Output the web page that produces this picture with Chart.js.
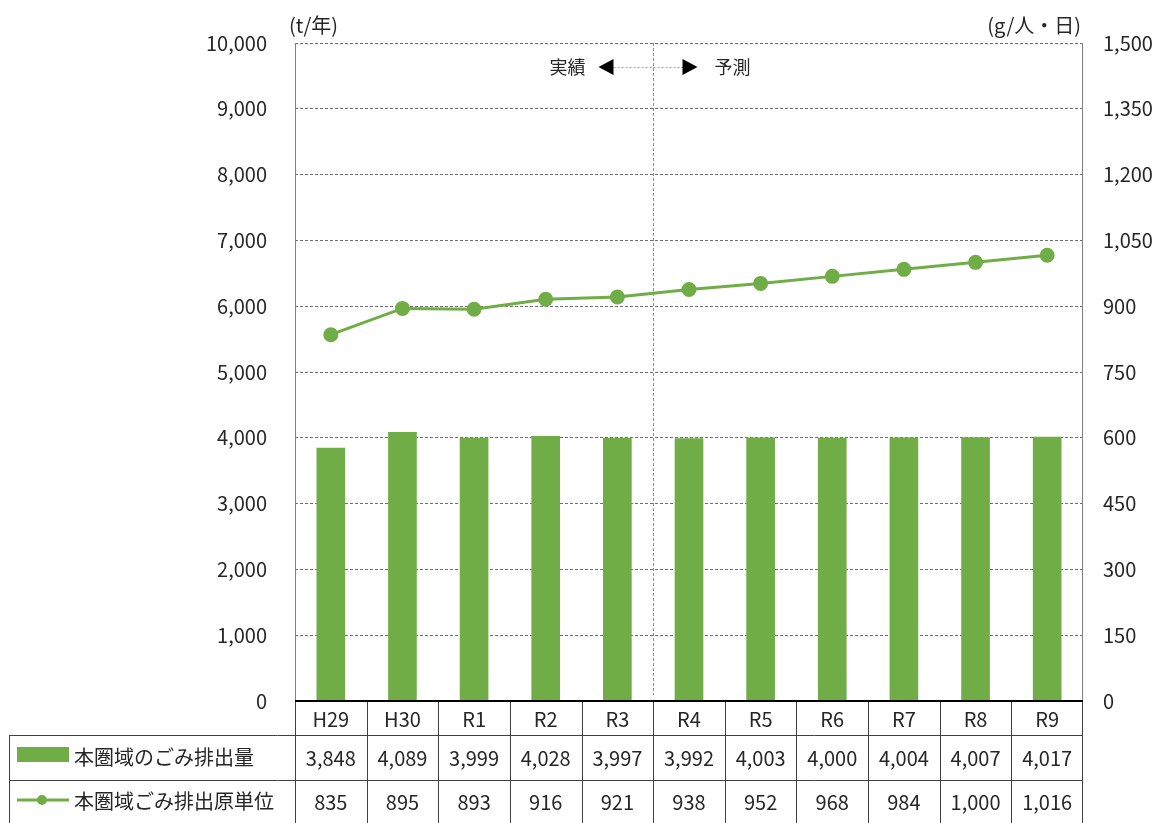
<!DOCTYPE html>
<html>
<head>
<meta charset="utf-8">
<script src="https://cdn.jsdelivr.net/npm/chart.js@4"></script>
<style>
  html, body { margin: 0; padding: 0; background: #fff; }
  #wrap { width: 1165px; height: 823px; }
</style>
</head>
<body>
<div id="wrap"><canvas id="chart"></canvas></div>
<script>
const years = ["H29", "H30", "R1", "R2", "R3", "R4", "R5", "R6", "R7", "R8", "R9"];
const wasteAmount = [3848, 4089, 3999, 4028, 3997, 3992, 4003, 4000, 4004, 4007, 4017];
const perCapita = [835, 895, 893, 916, 921, 938, 952, 968, 984, 1000, 1016];
const barLabel = "本圏域のごみ排出量";
const lineLabel = "本圏域ごみ排出原単位";
const leftTitle = "(t/年)";
const rightTitle = "(g/人・日)";
const pastText = "実績";
const futureText = "予測";
const splitAfter = 4; // index of R3, forecast starts after it

const green = "#70AD47";
const font = '"Noto Sans CJK JP", "Noto Sans", sans-serif';
const textColor = "#262626";

const fmt = v => v.toLocaleString("en-US");

const extras = {
    id: "extras",
    afterDraw(chart) {
        const { ctx, chartArea: a, scales } = chart;
        const x = scales.x;
        const step = a.width / years.length;
        ctx.save();

        // axis titles
        ctx.fillStyle = textColor;
        ctx.font = "20px " + font;
        ctx.textBaseline = "middle";
        ctx.textAlign = "left";
        ctx.fillText(leftTitle, a.left - 6, 25);
        ctx.textAlign = "right";
        ctx.fillText(rightTitle, a.right - 2, 25);

        // frame
        ctx.strokeStyle = "#808080";
        ctx.lineWidth = 1;
        ctx.beginPath();
        ctx.moveTo(a.left + 0.5, a.top);
        ctx.lineTo(a.left + 0.5, a.bottom);
        ctx.moveTo(a.right - 0.5, a.top);
        ctx.lineTo(a.right - 0.5, a.bottom);
        ctx.stroke();

        // split line between actual and forecast
        const sx = Math.round(x.getPixelForValue(splitAfter) + step / 2) + 0.5;
        ctx.strokeStyle = "#8c8c8c";
        ctx.setLineDash([3, 2]);
        ctx.beginPath();
        ctx.moveTo(sx, a.top);
        ctx.lineTo(sx, a.bottom - 6);
        ctx.stroke();

        // arrow line
        const ay = 67;
        ctx.strokeStyle = "#a0a0a0";
        ctx.setLineDash([2, 2]);
        ctx.beginPath();
        ctx.moveTo(sx - 40, ay + 0.5);
        ctx.lineTo(sx + 30, ay + 0.5);
        ctx.stroke();
        ctx.setLineDash([]);
        ctx.fillStyle = "#000";
        ctx.beginPath();
        ctx.moveTo(sx - 55, ay);
        ctx.lineTo(sx - 40, ay - 8);
        ctx.lineTo(sx - 40, ay + 8);
        ctx.closePath();
        ctx.fill();
        ctx.beginPath();
        ctx.moveTo(sx + 44, ay);
        ctx.lineTo(sx + 29, ay - 8);
        ctx.lineTo(sx + 29, ay + 8);
        ctx.closePath();
        ctx.fill();
        ctx.fillStyle = textColor;
        ctx.font = "18px " + font;
        ctx.textAlign = "center";
        ctx.fillText(pastText, sx - 86, ay);
        ctx.fillText(futureText, sx + 79, ay);

        // data table
        const r0 = a.bottom, r1 = 735, r2 = 780, r3 = 823;
        const tl = 9;
        ctx.strokeStyle = "#404040";
        ctx.lineWidth = 1;
        ctx.beginPath();
        ctx.moveTo(tl, r1 + 0.5); ctx.lineTo(a.right, r1 + 0.5);
        ctx.moveTo(tl, r2 + 0.5); ctx.lineTo(a.right, r2 + 0.5);
        ctx.moveTo(tl + 0.5, r1); ctx.lineTo(tl + 0.5, r3);
        for (let i = 0; i <= years.length; i++) {
            const lx = Math.round(a.left + i * step) + (i === years.length ? -0.5 : 0.5);
            ctx.moveTo(lx, r0);
            ctx.lineTo(lx, r3);
        }
        ctx.stroke();

        // bottom axis line
        ctx.strokeStyle = "#000";
        ctx.lineWidth = 2;
        ctx.beginPath();
        ctx.moveTo(a.left, a.bottom);
        ctx.lineTo(a.right, a.bottom);
        ctx.stroke();

        ctx.fillStyle = textColor;
        ctx.font = "20px " + font;
        ctx.textAlign = "center";
        years.forEach((y, i) => {
            const cx = x.getPixelForValue(i);
            ctx.fillText(y, cx, (r0 + r1) / 2 + 1);
            ctx.fillText(fmt(wasteAmount[i]), cx, (r1 + r2) / 2 + 1);
            ctx.fillText(fmt(perCapita[i]), cx, (r2 + r3) / 2 + 1);
        });

        // row legends
        ctx.fillStyle = green;
        ctx.fillRect(17, 747, 52, 15);
        ctx.strokeStyle = green;
        ctx.lineWidth = 3;
        ctx.beginPath();
        ctx.moveTo(17, 800);
        ctx.lineTo(69, 800);
        ctx.stroke();
        ctx.beginPath();
        ctx.arc(42, 800, 5, 0, Math.PI * 2);
        ctx.fill();
        ctx.fillStyle = textColor;
        ctx.textAlign = "left";
        ctx.fillText(barLabel, 74, 757);
        ctx.fillText(lineLabel, 74, 801);

        ctx.restore();
    }
};

new Chart(document.getElementById("chart"), {
    data: {
        labels: years,
        datasets: [
            {
                type: "line",
                label: lineLabel,
                data: perCapita,
                yAxisID: "y1",
                borderColor: green,
                backgroundColor: green,
                borderWidth: 3,
                pointRadius: 6,
                pointBackgroundColor: green,
                pointBorderColor: green,
                tension: 0,
                order: 0
            },
            {
                type: "bar",
                label: barLabel,
                data: wasteAmount,
                yAxisID: "y",
                backgroundColor: green,
                barPercentage: 0.8,
                categoryPercentage: 0.5,
                order: 1
            }
        ]
    },
    options: {
        responsive: true,
        maintainAspectRatio: false,
        animation: false,
        layout: { padding: { top: 43, left: 0, right: 0, bottom: 0 } },
        plugins: {
            legend: { display: false },
            tooltip: { enabled: false }
        },
        scales: {
            x: {
                ticks: { display: false },
                grid: { display: false },
                border: { display: false },
                afterFit: s => { s.height = 122; }
            },
            y: {
                position: "left",
                min: 0,
                max: 10000,
                ticks: {
                    stepSize: 1000,
                    padding: 28,
                    color: textColor,
                    font: { family: font, size: 20 },
                    callback: v => fmt(v)
                },
                grid: {
                    color: "#6f6f6f",
                    lineWidth: 1,
                    drawTicks: false
                },
                border: { display: false, dash: [3, 2] },
                afterFit: s => { s.width = 295; }
            },
            y1: {
                position: "right",
                min: 0,
                max: 1500,
                ticks: {
                    stepSize: 150,
                    padding: 20,
                    color: textColor,
                    font: { family: font, size: 20 },
                    callback: v => fmt(v)
                },
                grid: { display: false, drawTicks: false },
                border: { display: false },
                afterFit: s => { s.width = 82; }
            }
        }
    },
    plugins: [extras]
});
</script>
</body>
</html>
